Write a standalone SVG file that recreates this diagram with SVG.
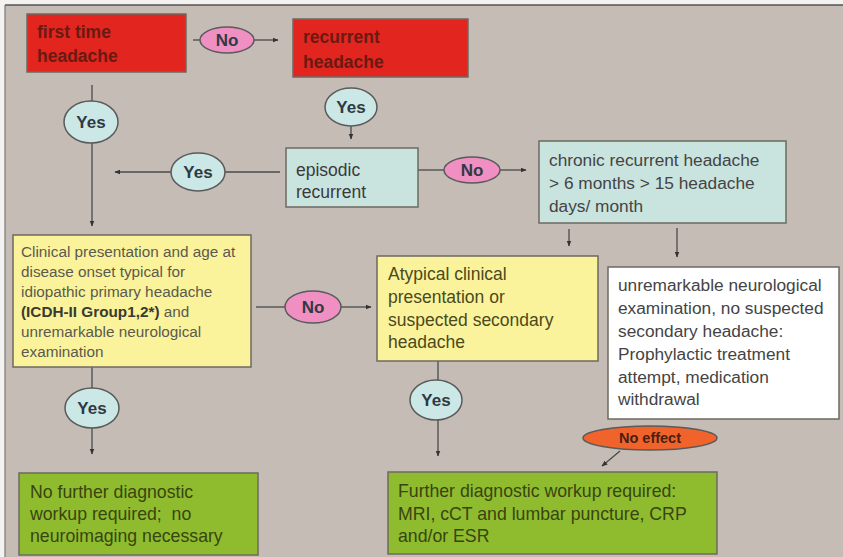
<svg xmlns="http://www.w3.org/2000/svg" width="843" height="557" viewBox="0 0 843 557">
<defs>
<style>
.box{stroke:#6e6a60;stroke-width:1.5;}
.red{fill:#e2261f;}
.cyan{fill:#c9e3df;}
.yel{fill:#fbf39b;}
.wht{fill:#ffffff;}
.grn{fill:#8ebc2e;}
.ell{stroke:#5a5a5a;stroke-width:1.5;}
.pink{fill:#f08fc2;}
.ecy{fill:#cbe7e6;}
.org{fill:#f0642c;}
.ln{stroke:#4a4a4a;stroke-width:1.3;fill:none;}
.lbl{font-family:"Liberation Sans",Arial,sans-serif;font-weight:bold;font-size:17px;fill:#2e3a44;text-anchor:middle;}
.rt{font-family:"Liberation Sans",Arial,sans-serif;font-weight:bold;font-size:17.5px;fill:#6a1a12;}
.gt{font-family:"Liberation Sans",Arial,sans-serif;font-size:17.5px;fill:#3a3a3a;}
.yt{font-family:"Liberation Sans",Arial,sans-serif;font-size:15.3px;fill:#5a5a50;}
.at{font-family:"Liberation Sans",Arial,sans-serif;font-size:17.5px;fill:#4a4a1c;}
.wt{font-family:"Liberation Sans",Arial,sans-serif;font-size:17.3px;fill:#444;}
.ngt{font-family:"Liberation Sans",Arial,sans-serif;font-size:17.7px;fill:#3a4410;}
</style>
<marker id="ah" viewBox="0 0 10 10" refX="9" refY="5" markerWidth="6" markerHeight="6" orient="auto" markerUnits="userSpaceOnUse">
<path d="M0,1 L10,5 L0,9 z" fill="#333"/>
</marker>
</defs>
<rect x="0" y="0" width="843" height="557" fill="#f4f2f0"/>
<rect x="5" y="5" width="838" height="552" fill="#c5bcb6"/>
<line x1="5" y1="5" x2="843" y2="5" stroke="#555" stroke-width="1.5"/>
<line x1="5" y1="5" x2="5" y2="557" stroke="#777" stroke-width="1.2"/>

<g id="connectors">
<line class="ln" x1="193" y1="40" x2="200" y2="40"/>
<line class="ln" x1="254" y1="40" x2="278" y2="40" marker-end="url(#ah)"/>
<line class="ln" x1="351" y1="126" x2="351" y2="139" marker-end="url(#ah)"/>
<line class="ln" x1="280" y1="172" x2="225" y2="172"/>
<line class="ln" x1="171" y1="172" x2="115" y2="172" marker-end="url(#ah)"/>
<line class="ln" x1="92" y1="85" x2="92" y2="101"/>
<line class="ln" x1="92" y1="143" x2="92" y2="226" marker-end="url(#ah)"/>
<line class="ln" x1="418" y1="170" x2="444" y2="170"/>
<line class="ln" x1="500" y1="170" x2="526" y2="170" marker-end="url(#ah)"/>
<line class="ln" x1="569" y1="229" x2="569" y2="246" marker-end="url(#ah)"/>
<line class="ln" x1="677" y1="228" x2="677" y2="257" marker-end="url(#ah)"/>
<line class="ln" x1="256" y1="307" x2="285" y2="307"/>
<line class="ln" x1="341" y1="307" x2="371" y2="307" marker-end="url(#ah)"/>
<line class="ln" x1="92" y1="367" x2="92" y2="388"/>
<line class="ln" x1="92" y1="428" x2="92" y2="454" marker-end="url(#ah)"/>
<line class="ln" x1="438" y1="361" x2="438" y2="380"/>
<line class="ln" x1="438" y1="420" x2="438" y2="456" marker-end="url(#ah)"/>
<line class="ln" x1="620" y1="451" x2="602" y2="466" marker-end="url(#ah)"/>
</g>

<g id="first-time">
<rect class="box red" x="27" y="14" width="159" height="58"/>
<text class="rt" x="37" y="38">first time</text>
<text class="rt" x="37" y="62">headache</text>
</g>
<g id="no1">
<ellipse class="ell pink" cx="227" cy="40" rx="27" ry="13"/>
<text class="lbl" x="227" y="46">No</text>
</g>
<g id="recurrent">
<rect class="box red" x="293" y="19" width="175" height="58"/>
<text class="rt" x="303" y="43">recurrent</text>
<text class="rt" x="303" y="68">headache</text>
</g>
<g id="yes1">
<ellipse class="ell ecy" cx="351" cy="107" rx="26" ry="19"/>
<text class="lbl" x="351" y="113">Yes</text>
</g>
<g id="episodic">
<rect class="box cyan" x="286" y="148" width="132" height="59"/>
<text class="gt" x="296" y="176">episodic</text>
<text class="gt" x="296" y="198">recurrent</text>
</g>
<g id="yes2">
<ellipse class="ell ecy" cx="198" cy="172" rx="27" ry="19"/>
<text class="lbl" x="198" y="178">Yes</text>
</g>
<g id="yes0">
<ellipse class="ell ecy" cx="91" cy="122" rx="27" ry="21"/>
<text class="lbl" x="91" y="128">Yes</text>
</g>
<g id="no2">
<ellipse class="ell pink" cx="472" cy="170" rx="28" ry="13"/>
<text class="lbl" x="472" y="176">No</text>
</g>
<g id="chronic">
<rect class="box cyan" x="539" y="141" width="247" height="82"/>
<text class="wt" x="549" y="166">chronic recurrent headache</text>
<text class="wt" x="549" y="189">&gt; 6 months &gt; 15 headache</text>
<text class="wt" x="549" y="212">days/ month</text>
</g>
<g id="clinical">
<rect class="box yel" x="13" y="235" width="238" height="132"/>
<text class="yt" x="21" y="257">Clinical presentation and age at</text>
<text class="yt" x="21" y="277">disease onset typical for</text>
<text class="yt" x="21" y="297">idiopathic primary headache</text>
<text class="yt" x="21" y="317"><tspan font-weight="bold" fill="#3a3a30">(ICDH-II Group1,2*)</tspan> and</text>
<text class="yt" x="21" y="337">unremarkable neurological</text>
<text class="yt" x="21" y="357">examination</text>
</g>
<g id="no3">
<ellipse class="ell pink" cx="313" cy="307" rx="28" ry="16"/>
<text class="lbl" x="313" y="313">No</text>
</g>
<g id="atypical">
<rect class="box yel" x="377" y="256" width="221" height="105"/>
<text class="at" x="388" y="280">Atypical clinical</text>
<text class="at" x="388" y="303">presentation or</text>
<text class="at" x="388" y="326">suspected secondary</text>
<text class="at" x="388" y="348">headache</text>
</g>
<g id="unremarkable">
<rect class="box wht" x="608" y="267" width="231" height="152"/>
<text class="wt" x="618" y="291">unremarkable neurological</text>
<text class="wt" x="618" y="314">examination, no suspected</text>
<text class="wt" x="618" y="337">secondary headache:</text>
<text class="wt" x="618" y="360">Prophylactic treatment</text>
<text class="wt" x="618" y="383">attempt, medication</text>
<text class="wt" x="618" y="405">withdrawal</text>
</g>
<g id="yes3">
<ellipse class="ell ecy" cx="92" cy="408" rx="27" ry="20"/>
<text class="lbl" x="92" y="414">Yes</text>
</g>
<g id="yes4">
<ellipse class="ell ecy" cx="436" cy="400" rx="26" ry="20"/>
<text class="lbl" x="436" y="406">Yes</text>
</g>
<g id="noeffect">
<ellipse class="ell org" cx="650" cy="438" rx="67" ry="12" stroke="#a0401a"/>
<text x="650" y="443" text-anchor="middle" font-family="Liberation Sans, Arial, sans-serif" font-size="14.5" font-weight="bold" fill="#4a2010">No effect</text>
</g>
<g id="no-further">
<rect class="box grn" x="19" y="473" width="239" height="82"/>
<text class="ngt" x="30" y="498">No further diagnostic</text>
<text class="ngt" x="30" y="520">workup required;&#160; no</text>
<text class="ngt" x="30" y="542">neuroimaging necessary</text>
</g>
<g id="further">
<rect class="box grn" x="388" y="472" width="329" height="82"/>
<text class="ngt" x="398" y="497">Further diagnostic workup required:</text>
<text class="ngt" x="398" y="520">MRI, cCT and lumbar puncture, CRP</text>
<text class="ngt" x="398" y="542">and/or ESR</text>
</g>
</svg>
